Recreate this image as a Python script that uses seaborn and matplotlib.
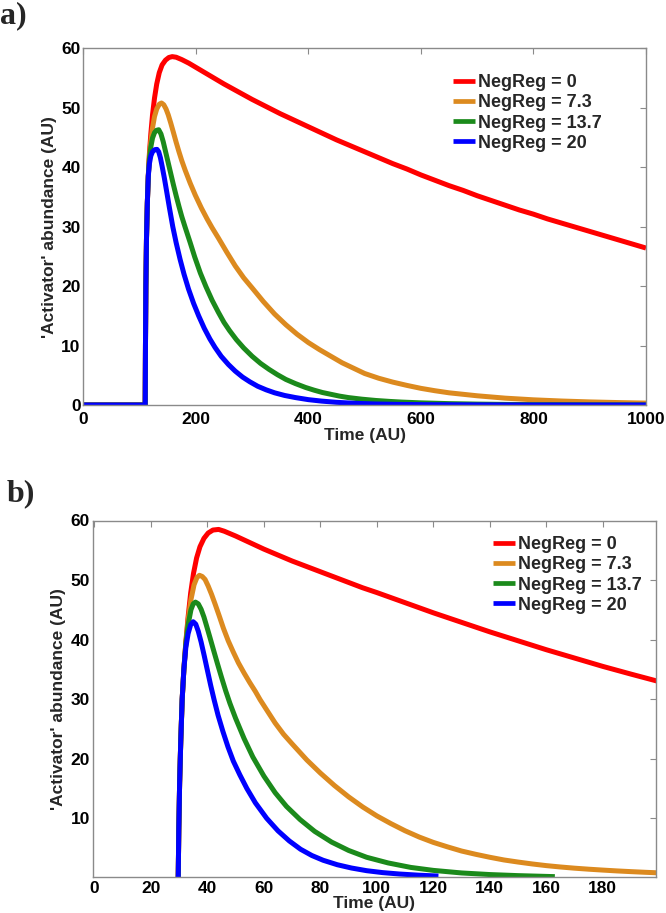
import numpy as np
import pandas as pd
import matplotlib
matplotlib.use("Agg")
import matplotlib.pyplot as plt
from matplotlib.lines import Line2D
import seaborn as sns

# ---------------- data ----------------
series_labels = ["NegReg = 0", "NegReg = 7.3", "NegReg = 13.7", "NegReg = 20"]
series_colors = ["#ff0000", "#dc8a1f", "#1b8a1b", "#0000ff"]

# ---- panel a ----
a_red_t = [0, 110, 110.5, 111.2, 112.3, 113.8, 115.5, 117.5, 120, 123, 126.5, 130.5, 135, 140, 146, 152, 158,
           165, 175, 187.5, 200, 225, 250, 275, 300, 325, 350, 375, 400, 425, 450, 475, 500, 525, 550, 575,
           600, 625, 650, 675, 700, 725, 750, 775, 800, 825, 850, 875, 900, 925, 950, 975, 1000]
a_red_v = [0, 0, 10, 20, 28, 34, 38.5, 42.3, 45.6, 48.8, 51.6, 54.0, 55.9, 57.2, 58.0, 58.45, 58.6,
           58.5, 58.1, 57.5, 56.8, 55.4, 54.0, 52.7, 51.4, 50.2, 49.0, 47.9, 46.8, 45.7, 44.6, 43.6, 42.6, 41.6, 40.6, 39.7,
           38.7, 37.8, 36.9, 36.1, 35.2, 34.4, 33.6, 32.8, 32.1, 31.3, 30.6, 29.9, 29.2, 28.5, 27.8, 27.1, 26.4]

a_orange_t = [0, 110, 110.5, 111.2, 112.3, 113.8, 115.5, 117.5, 120, 123, 126.5, 130.5, 135, 139, 143, 147, 151,
              155.5, 160, 165, 170, 175, 181, 190, 199, 210, 220, 229, 240, 255, 270, 285, 300, 320, 340, 360,
              380, 400, 420, 440, 460, 480, 500, 525, 550, 575, 600, 625, 650, 700, 750, 800, 850, 900, 950, 1000]
a_orange_v = [0, 0, 10, 20, 28, 34, 38.5, 41.9, 44.3, 46.6, 48.5, 49.8, 50.6, 50.8, 50.5, 49.8, 48.8,
              47.4, 45.9, 44.2, 42.6, 41.1, 39.5, 37.3, 35.3, 33.1, 31.3, 29.8, 28.1, 25.7, 23.4, 21.4, 19.7, 17.4, 15.3, 13.5,
              11.9, 10.5, 9.3, 8.2, 7.1, 6.2, 5.3, 4.5, 3.85, 3.3, 2.8, 2.4, 2.05, 1.55, 1.15, 0.87, 0.67, 0.52, 0.41, 0.32]

a_green_t = [0, 110, 110.5, 111.2, 112.3, 113.8, 115.5, 117.5, 120, 123, 126.5, 130, 134, 138, 142, 146, 150,
             155, 160, 165, 170, 175, 181, 190, 198, 208, 218, 229, 240, 250, 260, 272, 285, 300, 315, 330, 345,
             360, 377, 395, 410, 425, 440, 455, 471, 495, 520, 545, 566, 600, 650, 700, 750, 800, 900, 1000]
a_green_v = [0, 0, 10, 20, 28, 34, 38.5, 41.4, 43.4, 44.9, 45.8, 46.2, 46.3, 45.6, 44.3, 42.7, 41.1,
             39.1, 37.1, 35.2, 33.4, 31.7, 29.9, 27.3, 24.9, 22.2, 19.9, 17.6, 15.6, 13.9, 12.5, 11.0, 9.6, 8.2, 7.0, 6.0, 5.1,
             4.3, 3.6, 2.95, 2.5, 2.1, 1.8, 1.5, 1.25, 0.98, 0.76, 0.6, 0.49, 0.36, 0.23, 0.15, 0.1, 0.066, 0.03, 0.013]

a_blue_t = [0, 110, 110.5, 111.2, 112.3, 113.8, 115.5, 117.5, 120, 123, 127, 131, 134, 137, 140, 144, 148,
            153, 159, 165, 172, 179, 187, 196, 205, 215, 225, 234, 245, 258, 270, 283, 296, 310, 325, 340,
            358, 377, 400, 423, 450, 480, 520, 560, 620, 700, 800, 1000]
a_blue_v = [0, 0, 10, 20, 28, 34, 38.5, 40.6, 41.9, 42.6, 42.95, 43.0, 42.6, 41.6, 40.2, 38.2, 36.0,
            33.2, 30.0, 27.3, 24.5, 22.0, 19.5, 17.1, 15.0, 12.9, 11.1, 9.7, 8.2, 6.8, 5.7, 4.7, 3.9, 3.15, 2.55, 2.05,
            1.6, 1.25, 0.9, 0.66, 0.45, 0.3, 0.17, 0.1, 0.05, 0.02, 0.0, 0.0]

# ---- panel b ----
b_red_t = [29.7, 29.9, 30.2, 30.6, 31.1, 31.7, 32.4, 33.2, 34.1, 35.1, 36.2, 37.4, 38.8, 40.3, 42, 44, 46,
           50, 55, 60, 65, 70, 75, 80, 85, 90, 95, 100, 110, 120, 130, 140, 150, 160, 170, 180, 190, 199.5]
b_red_v = [0, 8, 16, 23, 30, 35, 39.6, 43.8, 47.8, 51.1, 53.7, 55.6, 57.0, 57.9, 58.4, 58.5, 58.2,
           57.4, 56.3, 55.2, 54.2, 53.2, 52.3, 51.4, 50.5, 49.6, 48.7, 47.9, 46.2, 44.5, 42.9, 41.3, 39.8, 38.3, 36.9,
           35.5, 34.2, 33.0]

b_orange_t = [29.7, 29.9, 30.2, 30.6, 31.1, 31.7, 32.4, 33.2, 34.2, 35.3, 36.3, 37.2, 38.2, 39.2, 40.3, 41.5,
              42.8, 44.2, 45.7, 47.4, 49.2, 51, 53, 55, 57, 58.7, 61, 64, 67, 70, 75.2, 80, 85, 90, 95, 100, 105,
              110, 115, 120, 125, 130, 135, 140, 145, 150, 155, 160, 165, 170, 175, 180, 185, 190, 195, 199.5]
b_orange_v = [0, 8, 16, 23, 30, 35, 39.4, 43.3, 46.7, 49.2, 50.4, 50.8, 50.6, 50.1, 49.0, 47.6,
              45.9, 44.0, 41.9, 39.8, 37.9, 36.1, 34.4, 32.8, 31.3, 29.9, 28.2, 26.0, 24.1, 22.5, 19.8, 17.6, 15.5, 13.6,
              11.9, 10.4, 9.1, 7.9, 6.85, 5.95, 5.2, 4.5, 3.95, 3.45, 3.0, 2.65, 2.33, 2.05, 1.82, 1.62, 1.45, 1.3, 1.16,
              1.04, 0.93, 0.84]

b_green_t = [29.7, 29.9, 30.2, 30.6, 31.1, 31.7, 32.4, 33.2, 34.2, 35, 35.8, 36.8, 37.8, 38.8, 39.8, 40.9,
             42.1, 43.5, 45, 46.5, 48, 50, 53, 56.1, 60, 64, 68, 72.8, 78, 84, 90, 96.4, 104, 112, 120, 130, 140,
             150, 163]
b_green_v = [0, 8, 16, 23, 30, 35, 39.3, 42.5, 45.0, 46.0, 46.3, 46.0, 45.1, 43.8, 42.2, 40.4,
             38.4, 36.1, 33.7, 31.4, 29.3, 26.8, 23.4, 20.3, 17.1, 14.3, 12.0, 9.8, 7.8, 6.0, 4.6, 3.45, 2.5, 1.75, 1.25,
             0.82, 0.55, 0.37, 0.2]

b_blue_t = [29.7, 29.9, 30.2, 30.6, 31.1, 31.7, 32.4, 33.2, 34.1, 35, 35.9, 36.8, 37.8, 38.9, 40, 41.2,
            42.4, 43.8, 45.5, 47.3, 49.2, 51.5, 54, 57, 61, 65, 69, 73, 77, 81, 86, 91, 96.4, 102, 108, 115, 121.8]
b_blue_v = [0, 8, 16, 23, 30, 35, 38.7, 41.0, 42.5, 43.0, 42.6, 41.4, 39.6, 37.3, 34.9, 32.3,
            29.9, 27.3, 24.6, 22.0, 19.6, 17.3, 15.0, 12.6, 10.0, 7.9, 6.2, 4.8, 3.75, 2.95, 2.2, 1.65, 1.2, 0.88,
            0.64, 0.44, 0.3]

a_x_ticks = [0, 200, 400, 600, 800, 1000]
a_y_ticks = [0, 10, 20, 30, 40, 50, 60]
b_x_ticks = [0, 20, 40, 60, 80, 100, 120, 140, 160, 180]
b_y_ticks = [10, 20, 30, 40, 50, 60]


def make_df(ts, vs):
    frames = []
    for lab, t, v in zip(series_labels, ts, vs):
        frames.append(pd.DataFrame({"time": t, "value": v, "series": lab}))
    return pd.concat(frames, ignore_index=True)


df_a = make_df([a_red_t, a_orange_t, a_green_t, a_blue_t], [a_red_v, a_orange_v, a_green_v, a_blue_v])
df_b = make_df([b_red_t, b_orange_t, b_green_t, b_blue_t], [b_red_v, b_orange_v, b_green_v, b_blue_v])

# ---------------- style ----------------
sns.set_theme(style="white")
plt.rcParams["font.family"] = ["Liberation Sans", "DejaVu Sans"]
plt.rcParams["font.weight"] = "bold"
plt.rcParams["axes.labelweight"] = "bold"

W, H = 666, 913
fig = plt.figure(figsize=(W / 100, H / 100), dpi=100)

FS = 12.5
LW = 3.6
GRAY = "#8a8a8a"


def axes_px(l, t, r, b):
    return fig.add_axes([l / W, 1 - b / H, (r - l) / W, (b - t) / H])


def style_axes(ax, xt, yt, xlim, ylim, xpad, xlabelpad):
    ax.set_xlim(*xlim)
    ax.set_ylim(*ylim)
    ax.set_xticks(xt)
    ax.set_yticks(yt)
    ax.set_xticklabels([str(v) for v in xt], fontsize=FS, fontweight="bold")
    ax.set_yticklabels([str(v) for v in yt], fontsize=FS, fontweight="bold")
    ax.tick_params(axis="both", which="both", direction="in", length=4, width=0.8,
                   color=GRAY, top=True, right=True, labelcolor="black")
    ax.tick_params(axis="x", pad=xpad)
    ax.tick_params(axis="y", pad=2)
    for s in ax.spines.values():
        s.set_color(GRAY)
        s.set_linewidth(1.0)
        s.set_visible(True)
    ax.set_xlabel("Time (AU)", fontsize=FS, fontweight="bold", labelpad=xlabelpad)
    ax.set_ylabel("'Activator' abundance (AU)", fontsize=FS, fontweight="bold", labelpad=3)


def draw_panel(ax, df, legend_anchor_px):
    sns.lineplot(data=df, x="time", y="value", hue="series", hue_order=series_labels,
                 palette=series_colors, linewidth=LW, estimator=None, sort=False,
                 legend=False, ax=ax)
    for ln in ax.get_lines():
        ln.set_solid_capstyle("butt")
        ln.set_solid_joinstyle("round")
    handles = [Line2D([0], [0], color=c, lw=3.4, solid_capstyle="butt") for c in series_colors]
    lx, ly = legend_anchor_px
    ax.legend(handles, series_labels, loc="upper left",
              bbox_to_anchor=(lx / W, 1 - ly / H), bbox_transform=fig.transFigure,
              frameon=False, borderpad=0, borderaxespad=0, handlelength=1.22,
              handletextpad=0.17, labelspacing=0.18,
              prop={"size": 13, "weight": "bold"})


ax_a = axes_px(83.3, 48.3, 646, 405)
draw_panel(ax_a, df_a, (453.3, 74.0))
style_axes(ax_a, a_x_ticks, a_y_ticks, (0, 1000), (0, 60), 5.2, 0.6)

ax_b = axes_px(92.7, 520.5, 655.7, 877)
draw_panel(ax_b, df_b, (492.7, 536.0))
style_axes(ax_b, b_x_ticks, b_y_ticks, (-0.57, 198.7), (0.14, 60), 2.6, 0.0)

fig.text(0 / W, 1 - 16 / H, "a)", fontfamily=["Liberation Serif", "DejaVu Serif"],
         fontweight="bold", fontsize=23, ha="left", va="center")
fig.text(7 / W, 1 - 494 / H, "b)", fontfamily=["Liberation Serif", "DejaVu Serif"],
         fontweight="bold", fontsize=23, ha="left", va="center")

fig.savefig("out.png", dpi=100)
